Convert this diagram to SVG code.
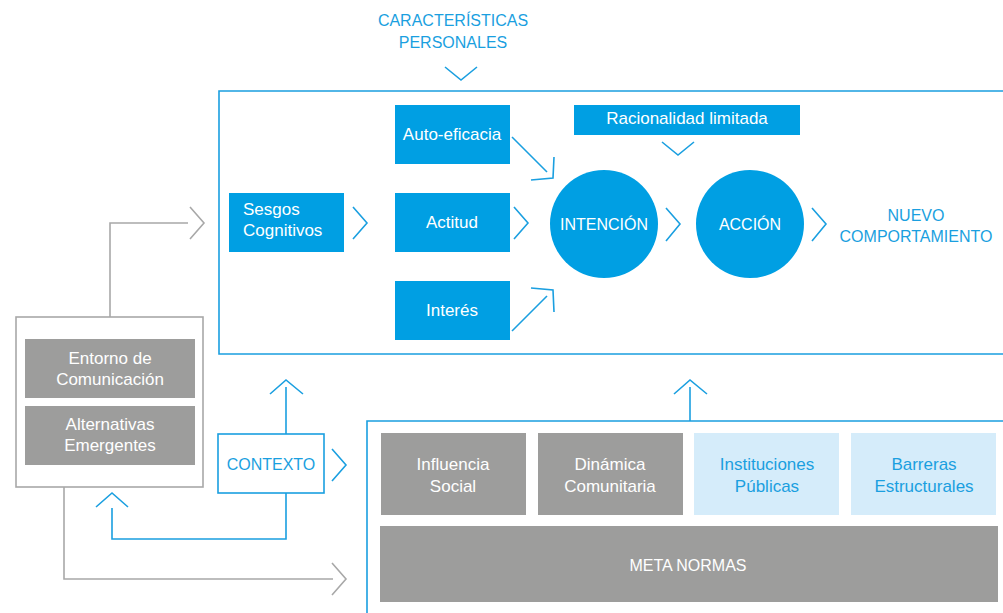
<svg xmlns="http://www.w3.org/2000/svg" width="1003" height="613" viewBox="0 0 1003 613">
<style>
.bl{fill:#009fe3}
.gr{fill:#9d9d9c}
.lb{fill:#d5ecfa}
.wt{fill:#ffffff;font-family:"Liberation Sans",Arial,sans-serif;font-size:17px;text-anchor:middle}
.bt{fill:#1a9fe0;font-family:"Liberation Sans",Arial,sans-serif;font-size:16px;text-anchor:middle}
.up{font-size:16px}
.frame{fill:none;stroke:#1a9fe0;stroke-width:1.6}
.gframe{fill:none;stroke:#a8a8a8;stroke-width:1.6}
.cb{fill:none;stroke:#1a9fe0;stroke-width:1.6}
.cg{fill:none;stroke:#a8a8a8;stroke-width:1.6}
</style>
<rect width="1003" height="613" fill="#ffffff"/>

<g id="caracteristicas">
<text class="bt" x="453" y="26">CARACTERÍSTICAS</text>
<text class="bt" x="453" y="48">PERSONALES</text>
</g>

<g id="marco-superior"><path class="frame" d="M1010,91 H219 V354 H1010"/></g>
<g id="marco-inferior"><path class="frame" d="M1010,421 H367 V620"/></g>

<g id="sesgos"><rect class="bl" x="229" y="193" width="115" height="59"/>
<text class="wt" x="243" y="215" text-anchor="start" style="text-anchor:start">Sesgos</text>
<text class="wt" x="243" y="236" style="text-anchor:start">Cognitivos</text></g>

<g id="autoeficacia"><rect class="bl" x="395" y="105" width="115" height="59"/>
<text class="wt" x="452" y="140">Auto-eficacia</text></g>
<g id="actitud"><rect class="bl" x="395" y="193" width="115" height="59"/>
<text class="wt" x="452" y="228">Actitud</text></g>
<g id="interes"><rect class="bl" x="395" y="281" width="115" height="59"/>
<text class="wt" x="452" y="316">Interés</text></g>

<g id="racionalidad"><rect class="bl" x="574" y="105" width="226" height="30"/>
<text class="wt" x="687" y="124">Racionalidad limitada</text></g>

<g id="intencion"><circle class="bl" cx="604" cy="224" r="54"/>
<text class="wt up" x="604" y="230">INTENCIÓN</text></g>
<g id="accion"><circle class="bl" cx="750" cy="224" r="54"/>
<text class="wt up" x="750" y="230">ACCIÓN</text></g>

<g id="nuevo">
<text class="bt" x="916" y="221">NUEVO</text>
<text class="bt" x="916" y="242">COMPORTAMIENTO</text>
</g>

<g id="entorno-grupo"><rect class="gframe" x="16" y="317" width="187" height="170" fill="#fff"/></g>
<g id="entorno"><rect class="gr" x="25" y="339" width="170" height="59"/>
<text class="wt" x="110" y="364">Entorno de</text>
<text class="wt" x="110" y="385">Comunicación</text></g>
<g id="alternativas"><rect class="gr" x="25" y="406" width="170" height="59"/>
<text class="wt" x="110" y="430">Alternativas</text>
<text class="wt" x="110" y="451">Emergentes</text></g>

<g id="contexto"><rect x="218" y="434" width="106" height="59" fill="#fff" stroke="#1a9fe0" stroke-width="1.6"/>
<text class="bt" x="271" y="470">CONTEXTO</text></g>

<g id="influencia"><rect class="gr" x="381" y="433" width="145" height="82"/>
<text class="wt" x="453" y="470">Influencia</text>
<text class="wt" x="453" y="492">Social</text></g>
<g id="dinamica"><rect class="gr" x="538" y="433" width="145" height="82"/>
<text class="wt" x="610" y="470">Dinámica</text>
<text class="wt" x="610" y="492">Comunitaria</text></g>
<g id="instituciones"><rect class="lb" x="694" y="433" width="145" height="82"/>
<text class="wt" x="767" y="470" style="fill:#1a9fe0">Instituciones</text>
<text class="wt" x="767" y="492" style="fill:#1a9fe0">Públicas</text></g>
<g id="barreras"><rect class="lb" x="851" y="433" width="145" height="82"/>
<text class="wt" x="924" y="470" style="fill:#1a9fe0">Barreras</text>
<text class="wt" x="924" y="492" style="fill:#1a9fe0">Estructurales</text></g>
<g id="metanormas"><rect class="gr" x="380" y="526" width="618" height="76"/>
<text class="wt up" x="688" y="571">META NORMAS</text></g>

<g id="conectores">
<polyline class="cb" points="445,67 461,80 477,67"/>
<polyline class="cb" points="353,207 367,223 353,239"/>
<polyline class="cb" points="514,207 528,223 514,239"/>
<polyline class="cb" points="666,208 680,224 666,241"/>
<polyline class="cb" points="812,208 826,224 812,241"/>
<polyline class="cb" points="662,142 678,155 694,142"/>
<line class="cb" x1="512" y1="137" x2="547" y2="172"/>
<polyline class="cb" points="554,157 553,178 531,180"/>
<line class="cb" x1="512" y1="331" x2="547" y2="296"/>
<polyline class="cb" points="531,288 553,290 554,312"/>
<path class="cg" d="M110,317 V223 H188"/>
<polyline class="cg" points="190,207 204,223 190,239"/>
<path class="cg" d="M64,487 V579 H333"/>
<polyline class="cg" points="332,563 346,579 332,595"/>
<path class="cb" d="M286,434 V387"/>
<polyline class="cb" points="270,394 286,380 303,394"/>
<polyline class="cb" points="332,449 346,465 332,481"/>
<path class="cb" d="M286,493 V539 H112 V508"/>
<polyline class="cb" points="96,507 112,493 128,507"/>
<path class="cb" d="M690,421 V387"/>
<polyline class="cb" points="674,394 690,380 707,394"/>
</g>
</svg>
